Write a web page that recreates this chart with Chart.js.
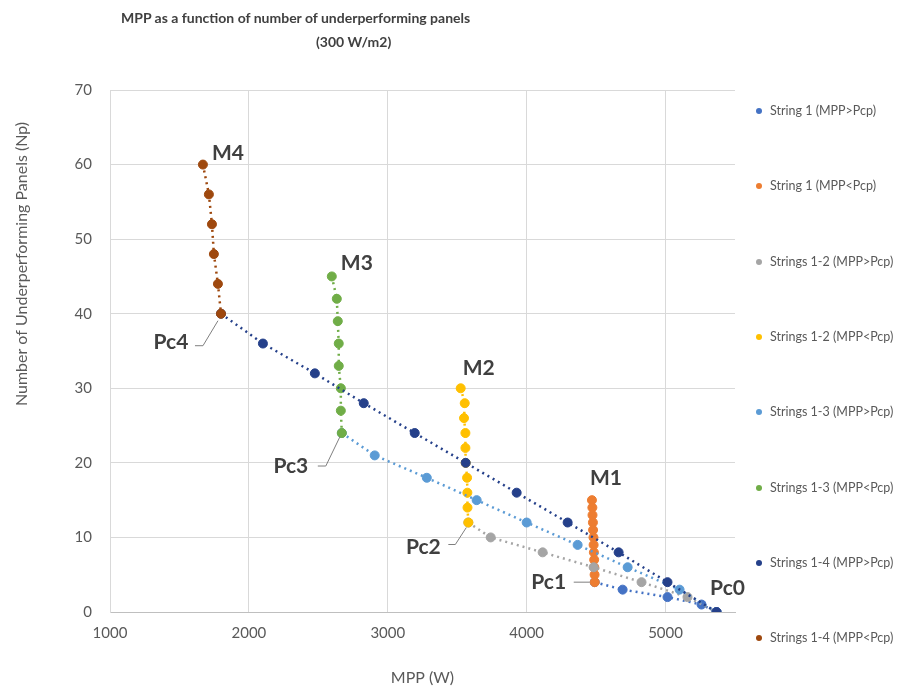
<!DOCTYPE html>
<html>
<head>
<meta charset="utf-8">
<script src="https://cdn.jsdelivr.net/npm/chart.js@4.4.1/dist/chart.umd.min.js"></script>
<style>
  html, body { margin: 0; padding: 0; background: #fff; }
  #wrap { position: relative; width: 913px; height: 693px; font-family: Lato, sans-serif; }
  #chart { position: absolute; left: 0; top: 0; }
  .title { position: absolute; font-weight: bold; font-size: 14px; line-height: 16px; color: #404040; white-space: nowrap; }
  #legend { position: absolute; left: 756px; top: 0; }
  .item { position: absolute; left: 0; height: 14px; line-height: 14px; font-size: 12.5px; color: #595959; white-space: nowrap; }
  .dot { display: inline-block; width: 6px; height: 6px; border-radius: 50%; margin-right: 8px; vertical-align: 1px; }
</style>
</head>
<body>
<div id="wrap">
  <canvas id="chart" width="913" height="693"></canvas>
  <div class="title" style="left:121px; top:10px;">MPP as a function of number of underperforming panels</div>
  <div class="title" style="left:316px; top:34px;">(300 W/m2)</div>
  <div id="legend"></div>
</div>
<script>
// series names as in the legend
const seriesLabels = [
  'String 1 (MPP>Pcp)', 'String 1 (MPP<Pcp)',
  'Strings 1-2 (MPP>Pcp)', 'Strings 1-2 (MPP<Pcp)',
  'Strings 1-3 (MPP>Pcp)', 'Strings 1-3 (MPP<Pcp)',
  'Strings 1-4 (MPP>Pcp)', 'Strings 1-4 (MPP<Pcp)'
];
const seriesColors = ['#4472C4', '#ED7D31', '#A5A5A5', '#FFC000', '#5B9BD5', '#70AD47', '#25408A', '#9E480E'];

// MPP (W) and number of underperforming panels
const s1AboveMpp = [4490, 4691, 5014, 5259, 5367];
const s1AboveNp  = [4, 3, 2, 1, 0];
const s1BelowMpp = [4470, 4473, 4474, 4477, 4478, 4481, 4482, 4484, 4486, 4487, 4489, 4490];
const s1BelowNp  = [15, 14, 13, 12, 11, 10, 9, 8, 7, 6, 5, 4];
const s2AboveMpp = [3580, 3741, 4115, 4482, 4827, 5158, 5367];
const s2AboveNp  = [12, 10, 8, 6, 4, 2, 0];
const s2BelowMpp = [3525, 3554, 3549, 3559, 3559, 3561, 3571, 3573, 3574, 3580];
const s2BelowNp  = [30, 28, 26, 24, 22, 20, 18, 16, 14, 12];
const s3AboveMpp = [2669, 2906, 3281, 3640, 4000, 4367, 4727, 5101, 5367];
const s3AboveNp  = [24, 21, 18, 15, 12, 9, 6, 3, 0];
const s3BelowMpp = [2597, 2633, 2640, 2647, 2647, 2662, 2662, 2669];
const s3BelowNp  = [45, 42, 39, 36, 33, 30, 27, 24];
const s4AboveMpp = [1799, 2101, 2475, 2827, 3194, 3561, 3928, 4295, 4662, 5014, 5367];
const s4AboveNp  = [40, 36, 32, 28, 24, 20, 16, 12, 8, 4, 0];
const s4BelowMpp = [1669, 1712, 1734, 1748, 1777, 1799];
const s4BelowNp  = [60, 56, 52, 48, 44, 40];

const xTicks = [1000, 2000, 3000, 4000, 5000];
const yTitle = 'Number of Underperforming Panels (Np)';

const mppLists = [s1AboveMpp, s1BelowMpp, s2AboveMpp, s2BelowMpp, s3AboveMpp, s3BelowMpp, s4AboveMpp, s4BelowMpp];
const npLists  = [s1AboveNp, s1BelowNp, s2AboveNp, s2BelowNp, s3AboveNp, s3BelowNp, s4AboveNp, s4BelowNp];

// labels next to the points (M = top of a column, Pc = critical point)
const callouts = [
  { text: 'M4', at: [s4BelowMpp[0], s4BelowNp[0]], dx: 25, dy: -11 },
  { text: 'M3', at: [s3BelowMpp[0], s3BelowNp[0]], dx: 25, dy: -13 },
  { text: 'M2', at: [s2BelowMpp[0], s2BelowNp[0]], dx: 18, dy: -20 },
  { text: 'M1', at: [s1BelowMpp[0], s1BelowNp[0]], dx: 14, dy: -22 },
  { text: 'Pc4', at: [s4BelowMpp[5], s4BelowNp[5]], dx: -50, dy: 29, leader: [[-26, 32], [-18, 32], [-3, 7]] },
  { text: 'Pc3', at: [s3BelowMpp[7], s3BelowNp[7]], dx: -51, dy: 33, leader: [[-24, 33], [-16, 33], [-2, 4]] },
  { text: 'Pc2', at: [s2BelowMpp[9], s2BelowNp[9]], dx: -45, dy: 25, leader: [[-20, 22], [-13, 22], [-2, 5]] },
  { text: 'Pc1', at: [s1BelowMpp[11], s1BelowNp[11]], dx: -46, dy: 0, leader: [[-21, 0], [-5, 0]] },
  { text: 'Pc0', at: [s1AboveMpp[4], s1AboveNp[4]], dx: 11, dy: -24 }
];

const calloutPlugin = {
  id: 'callouts',
  afterDatasetsDraw(chart) {
    const { ctx, scales: { x, y } } = chart;
    ctx.save();
    callouts.forEach(c => {
      const px = x.getPixelForValue(c.at[0]);
      const py = y.getPixelForValue(c.at[1]);
      if (c.leader) {
        ctx.strokeStyle = '#7f7f7f';
        ctx.lineWidth = 1;
        ctx.beginPath();
        c.leader.forEach((p, i) => {
          if (i === 0) ctx.moveTo(px + p[0], py + p[1]);
          else ctx.lineTo(px + p[0], py + p[1]);
        });
        ctx.stroke();
      }
      ctx.font = 'bold 21px Lato';
      ctx.fillStyle = '#404040';
      ctx.textAlign = 'center';
      ctx.textBaseline = 'middle';
      ctx.fillText(c.text, px + c.dx, py + c.dy);
    });
    ctx.restore();
  }
};

// y axis title sits above the middle of the axis in the original
const yTitlePlugin = {
  id: 'yTitle',
  afterDraw(chart) {
    const ctx = chart.ctx;
    ctx.save();
    ctx.translate(22, 264);
    ctx.rotate(-Math.PI / 2);
    ctx.font = '16px Lato';
    ctx.fillStyle = '#595959';
    ctx.textAlign = 'center';
    ctx.textBaseline = 'middle';
    ctx.fillText(yTitle, 0, 0);
    ctx.restore();
  }
};

const datasets = seriesLabels.map((label, i) => ({
  label: label,
  data: mppLists[i].map((v, j) => ({ x: v, y: npLists[i][j] })),
  showLine: true,
  borderColor: seriesColors[i],
  borderWidth: 2.5,
  borderDash: [2, 4],
  backgroundColor: seriesColors[i],
  pointBackgroundColor: seriesColors[i],
  pointBorderColor: seriesColors[i],
  pointRadius: 4.5,
  pointBorderWidth: 1,
  order: seriesLabels.length - i
}));

const grey = '#595959';
const chart = new Chart(document.getElementById('chart'), {
  type: 'scatter',
  data: { datasets: datasets },
  options: {
    responsive: false,
    animation: false,
    layout: { padding: { top: 90, right: 178, left: 0, bottom: 0 } },
    plugins: {
      legend: { display: false },
      title: { display: false },
      tooltip: { enabled: false }
    },
    scales: {
      x: {
        type: 'linear',
        min: 1000,
        max: 5500,
        afterFit: s => { s.height = 81; },
        afterBuildTicks: s => { s.ticks = xTicks.map(v => ({ value: v })); },
        ticks: { color: grey, font: { family: 'Lato', size: 15 }, padding: 12, callback: v => String(v) },
        grid: { color: '#d9d9d9', drawTicks: false },
        border: { color: '#bfbfbf' },
        title: { display: true, text: 'MPP (W)', color: grey, font: { family: 'Lato', size: 16 }, padding: { top: 4, bottom: 6 } }
      },
      y: {
        min: 0,
        max: 70,
        afterFit: s => { s.width = 110; },
        ticks: { stepSize: 10, color: grey, font: { family: 'Lato', size: 15 }, padding: 18 },
        grid: { color: '#d9d9d9', drawTicks: false },
        border: { color: '#d9d9d9' }
      }
    }
  },
  plugins: [calloutPlugin, yTitlePlugin]
});

// legend on the right, spread over the chart height as in the original
const legend = document.getElementById('legend');
seriesLabels.forEach((label, i) => {
  const item = document.createElement('div');
  item.className = 'item';
  item.style.top = (104 + i * 75.3) + 'px';
  const dot = document.createElement('span');
  dot.className = 'dot';
  dot.style.background = seriesColors[i];
  item.appendChild(dot);
  item.appendChild(document.createTextNode(label));
  legend.appendChild(item);
});
</script>
</body>
</html>
